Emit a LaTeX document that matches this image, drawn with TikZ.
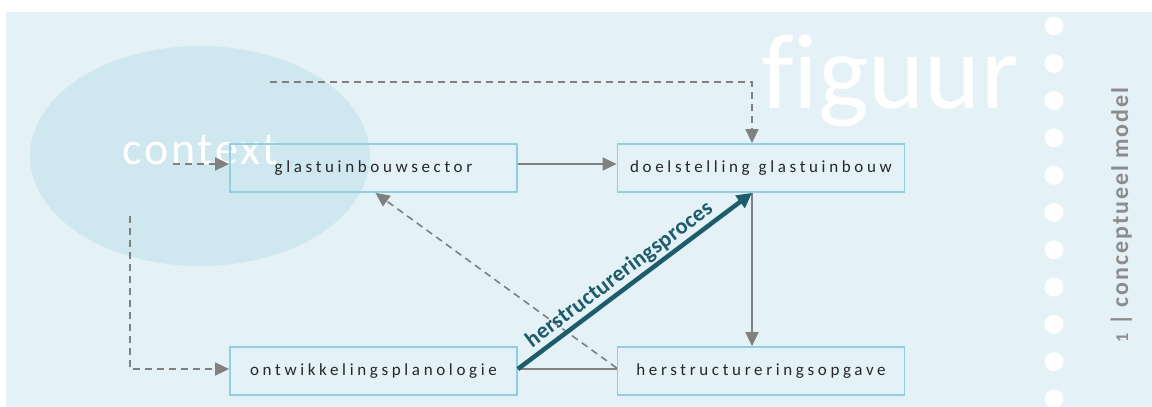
\documentclass[tikz,border=0pt]{standalone}
\usepackage{fontspec}
\setmainfont{Carlito}
\newfontfamily\boxfont{Carlito}[LetterSpace=21.5,WordSpace=1.2]
\newfontfamily\ctxfont{Carlito}[LetterSpace=6]
\newfontfamily\figfont{Carlito}[Ligatures={NoCommon}]
\newfontfamily\sidefont{Carlito}[LetterSpace=8]
\newfontfamily\lblfont{Carlito}[LetterSpace=1]
\usetikzlibrary{arrows.meta,calc}
\definecolor{panel}{HTML}{E4F2F7}
\definecolor{ellcol}{HTML}{CFE8EF}
\definecolor{boxline}{HTML}{8FCFE0}
\definecolor{arrgray}{HTML}{808080}
\definecolor{teal}{HTML}{1E5B6B}
\definecolor{sidegray}{HTML}{8C8C8C}
\tikzset{
  conbox/.style={draw=boxline, line width=1.8pt, minimum width=287pt, minimum height=48pt,
    inner sep=0pt, font=\boxfont\fontsize{17}{20}\selectfont, text=black!85},
  grayarrow/.style={draw=arrgray, line width=1.6pt, -{Triangle[length=14pt,width=13pt]}},
  grayline/.style={draw=arrgray, line width=1.6pt},
  dashedarrow/.style={grayarrow, dash pattern=on 7pt off 5pt},
  mainarrow/.style={draw=teal, line width=4.5pt, -{Triangle[length=15pt,width=15pt]}},
  dot/.style={fill=white, draw=none}
}
\begin{document}
\begin{tikzpicture}[x=1pt,y=-1pt]
\useasboundingbox (0,0) rectangle (1152,407);
\fill[white] (0,0) rectangle (1152,407);
\fill[panel] (6,12) rectangle (1152,407);
% context ellipse
\fill[ellcol] (200,156) ellipse [x radius=170pt, y radius=110pt];
\node[anchor=base west, inner sep=0pt, text=white, font=\ctxfont\fontsize{46}{46}\selectfont] (ctx) at (122,164) {context};
% figuur
\node[anchor=base west, inner sep=0pt, text=white, font=\figfont\fontsize{107}{107}\selectfont] (fig) at (761,108) {figuur};
% dots
\foreach \k in {0,...,10} {
  \fill[dot] (1054,{26+37.3*\k}) circle [radius=9.5pt];
}
% side label
\node[rotate=90, anchor=base, inner sep=0pt, text=sidegray, font=\sidefont\bfseries\fontsize{24}{24}\selectfont] (side) at (1128,215) {{\fontsize{18}{18}\selectfont 1} | conceptueel model};
% boxes
\node[conbox] (glas) at (373.5,168) {glastuinbouwsector};
\node[conbox] (doel) at (761,168) {doelstelling glastuinbouw};
\node[conbox] (ontw) at (373.5,371) {ontwikkelingsplanologie};
\node[conbox] (herst) at (761,371) {herstructureringsopgave};
% helper coordinates
\coordinate (topstart) at (270,82);
\coordinate (ctxstart) at (173,164);
\coordinate (leftstart) at (130,216);
\coordinate (doelin) at ($(doel.north)+(-9,0)$);
\coordinate (doelout) at ($(doel.south)+(-9,0)$);
\coordinate (herstin) at ($(herst.north)+(-9,0)$);
\coordinate (glasR) at ($(glas.east)+(0,-4)$);
\coordinate (doelL) at ($(doel.west)+(0,-4)$);
\coordinate (glasL) at ($(glas.west)+(0,-4)$);
\coordinate (ontwR) at ($(ontw.east)+(0,-2)$);
\coordinate (ontwL) at ($(ontw.west)+(0,-2)$);
\coordinate (herstL) at ($(herst.west)+(0,-2)$);
\coordinate (herstLd) at ($(herst.west)+(0,-3)$);
\coordinate (glasB) at ($(glas.south)+(2,0)$);
% connectors
\draw[dashedarrow] (topstart) -| (doelin);
\draw[dashedarrow] (ctxstart) -- (glasL);
\draw[dashedarrow] (leftstart) |- (ontwL);
\draw[grayarrow] (glasR) -- (doelL);
\draw[grayarrow] (doelout) -- (herstin);
\draw[grayline] (ontwR) -- (herstL);
\draw[dashedarrow] (herstLd) -- (glasB);
\draw[mainarrow] (ontwR) -- node[sloped, above=2pt, pos=0.47, text=teal, inner sep=0pt, font=\lblfont\bfseries\fontsize{22.5}{23}\selectfont] (lbl) {herstructureringsproces} (doelout);
\end{tikzpicture}
\end{document}
